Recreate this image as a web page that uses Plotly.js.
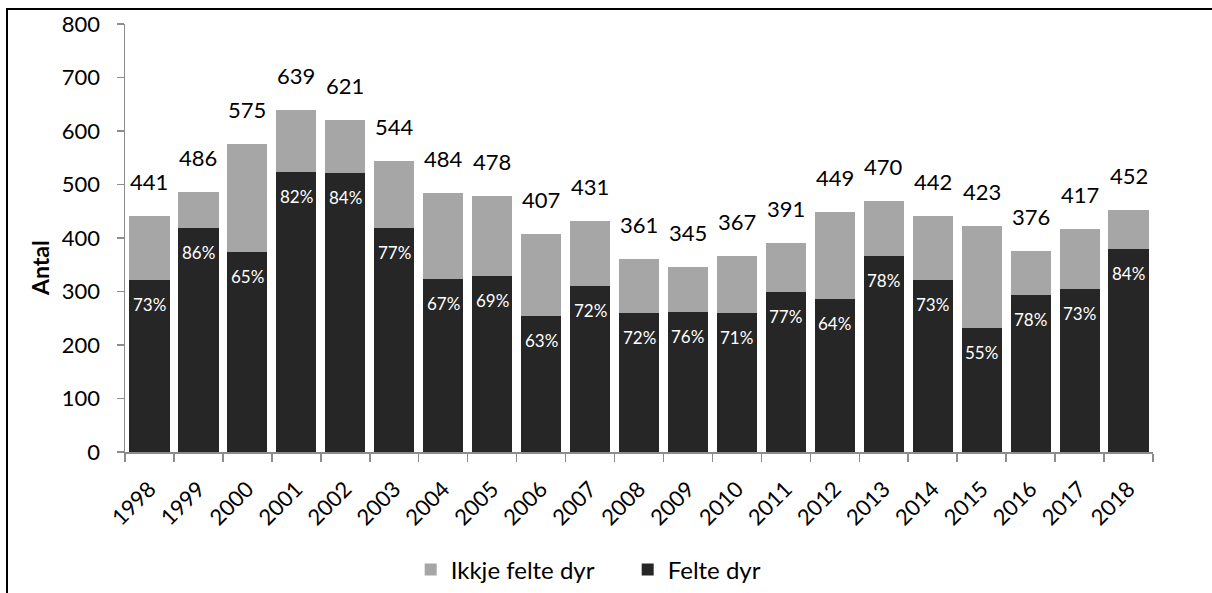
<!DOCTYPE html>
<html>
<head>
<meta charset="utf-8">
<script src="https://cdn.plot.ly/plotly-3.0.1.min.js"></script>
<style>
  html, body { margin: 0; padding: 0; background: #fff; }
  #wrap { position: relative; width: 1212px; height: 593px; overflow: hidden; }
  #chart { position: absolute; left: 0; top: 0; width: 1212px; height: 593px; }
  #frame { position: absolute; left: 6px; top: 8px; width: 1300px; height: 700px;
           border-top: 2px solid #000; border-left: 2px solid #000; pointer-events: none; }
</style>
</head>
<body>
<div id="wrap">
  <div id="chart"></div>
  <div id="frame"></div>
</div>
<script>
const years = ['1998','1999','2000','2001','2002','2003','2004','2005','2006','2007','2008',
               '2009','2010','2011','2012','2013','2014','2015','2016','2017','2018'];
const felte = [322, 418, 374, 523, 522, 418, 324, 329, 255, 310, 259,
               261, 260, 300, 286, 366, 322, 232, 293, 304, 380];
const ikkje = [119, 68, 201, 116, 99, 126, 160, 149, 152, 121, 102,
               84, 107, 91, 163, 104, 120, 191, 83, 113, 72];
const totals = [441, 486, 575, 639, 621, 544, 484, 478, 407, 431, 361,
                345, 367, 391, 449, 470, 442, 423, 376, 417, 452];
const pctLabels = ['73%','86%','65%','82%','84%','77%','67%','69%','63%','72%','72%',
                   '76%','71%','77%','64%','78%','73%','55%','78%','73%','84%'];

const FONT = 'Lato, "Open Sans", sans-serif';
const DARK = '#262626';
const GRAY = '#a6a6a6';

const traces = [
  {
    type: 'bar', name: 'Felte dyr', x: years, y: felte,
    marker: { color: DARK, line: { width: 0 } },
    hoverinfo: 'skip'
  },
  {
    type: 'bar', name: 'Ikkje felte dyr', x: years, y: ikkje,
    marker: { color: GRAY, line: { width: 0 } },
    hoverinfo: 'skip'
  }
];

const annotations = [];
years.forEach((yr, i) => {
  annotations.push({
    x: i, y: totals[i], xref: 'x', yref: 'y',
    text: String(totals[i]), showarrow: false,
    yanchor: 'bottom', yshift: 19,
    font: { family: FONT, size: 22, color: '#000' }
  });
  annotations.push({
    x: i, y: felte[i], xref: 'x', yref: 'y',
    text: pctLabels[i], showarrow: false,
    yanchor: 'top', yshift: -12,
    font: { family: FONT, size: 17, color: '#fff' }
  });
});

const plotW = 1212 - 125 - 59, plotH = 593 - 24 - 141;
annotations.push({
  x: (40 - 125) / plotW, y: (593 - 141 - 268) / plotH,
  xref: 'paper', yref: 'paper', xanchor: 'center', yanchor: 'middle',
  text: '<b>Antal</b>', showarrow: false,
  textangle: -90, font: { family: FONT, size: 23, color: '#000' }
});

const layout = {
  width: 1212, height: 593,
  margin: { l: 125, r: 59, t: 24, b: 141, autoexpand: false },
  paper_bgcolor: '#fff', plot_bgcolor: '#fff',
  barmode: 'stack', bargap: 0.18,
  font: { family: FONT, size: 22, color: '#000' },
  showlegend: true,
  legend: {
    orientation: 'h', traceorder: 'reversed',
    x: 0.489, xanchor: 'center', y: (452 - 570) / plotH, yanchor: 'middle',
    font: { family: FONT, size: 24, color: '#000' },
    entrywidth: 172, entrywidthmode: 'pixels'
  },
  xaxis: {
    type: 'category', tickangle: -45, tickson: 'boundaries',
    range: [-0.5, years.length - 0.5], autorange: false, automargin: false,
    ticks: 'outside', ticklen: 8, tickcolor: '#8c8c8c', tickwidth: 1.5,
    showline: true, linecolor: '#8c8c8c', linewidth: 1.5,
    showgrid: false, zeroline: false,
    ticklabelstandoff: 14,
    tickfont: { family: FONT, size: 22, color: '#000' }
  },
  yaxis: {
    range: [0, 800], autorange: false, dtick: 100, tick0: 0, automargin: false,
    ticks: 'outside', ticklen: 7, tickcolor: '#8c8c8c', tickwidth: 1.5,
    showline: true, linecolor: '#8c8c8c', linewidth: 1.5,
    showgrid: false, zeroline: false,
    ticklabelstandoff: 12,
    tickfont: { family: FONT, size: 22, color: '#000' }
  },
  annotations: annotations
};

Plotly.newPlot('chart', traces, layout, { staticPlot: true, displayModeBar: false });
</script>
</body>
</html>
